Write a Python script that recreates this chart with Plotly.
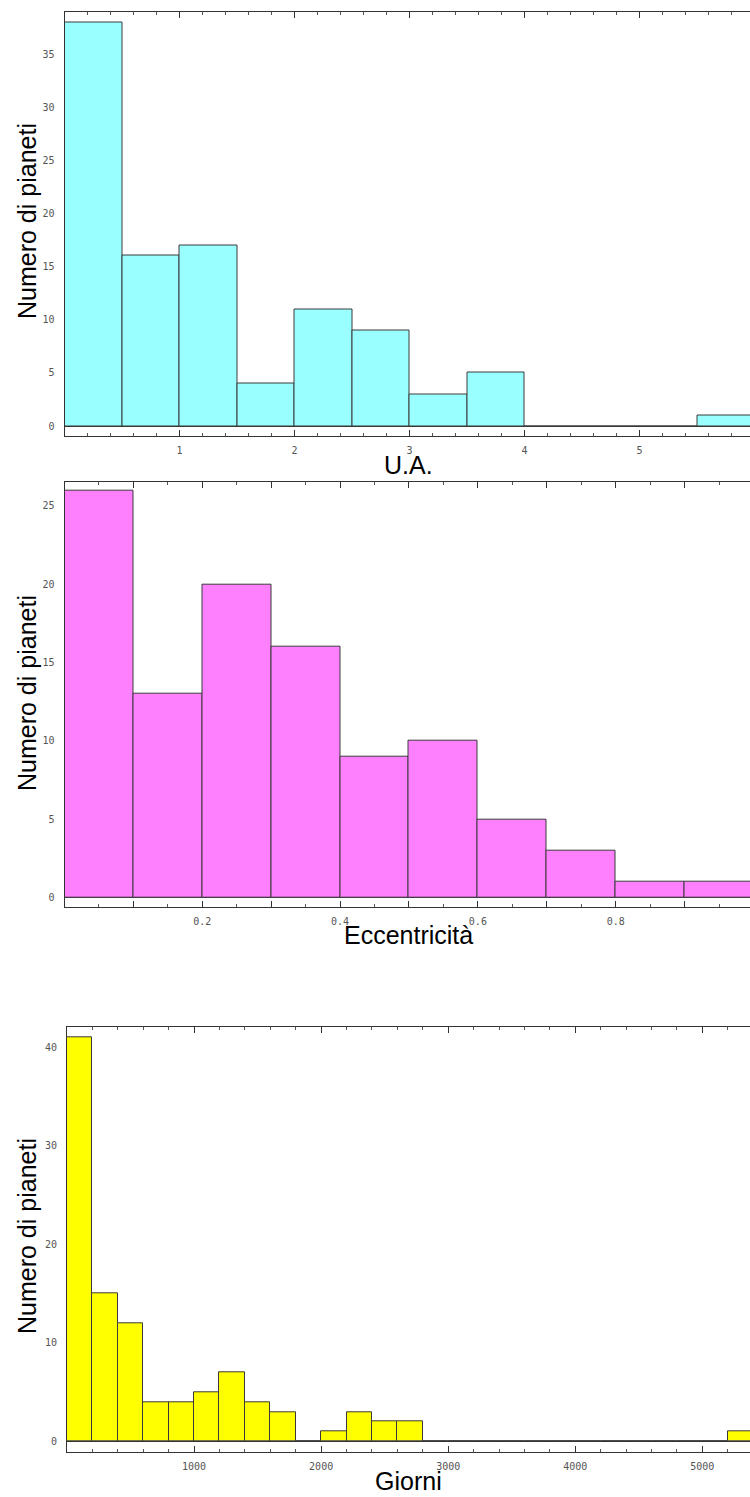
import plotly.graph_objects as go

# ---- data ----
ua_bin_start = [0, 0.5, 1, 1.5, 2, 2.5, 3, 3.5, 4, 4.5, 5, 5.5]
ua_bin_width = 0.5
ua_counts = [38, 16, 17, 4, 11, 9, 3, 5, 0, 0, 0, 1]

ecc_bin_start = [0, 0.1, 0.2, 0.3, 0.4, 0.5, 0.6, 0.7, 0.8, 0.9]
ecc_bin_width = 0.1
ecc_counts = [26, 13, 20, 16, 9, 10, 5, 3, 1, 1]

per_bin_start = [i * 200 for i in range(27)]
per_bin_width = 200
per_counts = [41, 15, 12, 4, 4, 5, 7, 4, 3, 0, 1, 3, 2, 2,
              0, 0, 0, 0, 0, 0, 0, 0, 0, 0, 0, 0, 1]

ua_ticks = [1, 2, 3, 4, 5]
ecc_ticks = [0.1, 0.2, 0.3, 0.4, 0.5, 0.6, 0.7, 0.8, 0.9]
ecc_ticktext = ["", "0.2", "", "0.4", "", "0.6", "", "0.8", ""]
per_ticks = [1000, 2000, 3000, 4000, 5000]

y_title = "Numero di pianeti"
x_titles = ["U.A.", "Eccentricità", "Giorni"]

W, H = 750, 1497

def px_x(p):
    return p / W

def px_y(p):
    return 1 - p / H

fig = go.Figure()

panels = [
    dict(starts=ua_bin_start, w=ua_bin_width, counts=ua_counts, color="#99FFFF",
         left=64.5, top=11.5, bottom=436, xr=[0, 5.96], yr=[-0.94, 39.0],
         xt=ua_ticks, xtt=[str(v) for v in ua_ticks], xminor=0.2,
         yt=[0, 5, 10, 15, 20, 25, 30, 35], ycen=221, xtitle_y=465),
    dict(starts=ecc_bin_start, w=ecc_bin_width, counts=ecc_counts, color="#FF80FF",
         left=64.5, top=481.7, bottom=907, xr=[0, 0.995], yr=[-0.6, 26.55],
         xt=ecc_ticks, xtt=ecc_ticktext, xminor=0.05,
         yt=[0, 5, 10, 15, 20, 25], ycen=693, xtitle_y=935),
    dict(starts=per_bin_start, w=per_bin_width, counts=per_counts, color="#FFFF00",
         left=67, top=1027.3, bottom=1452.3, xr=[0, 5375], yr=[-1.1, 42.05],
         xt=per_ticks, xtt=[str(v) for v in per_ticks], xminor=200,
         yt=[0, 10, 20, 30, 40], ycen=1236, xtitle_y=1481),
]

tickfont = dict(family="DejaVu Sans Mono", size=10, color="#555555")
annotations = []
for i, p in enumerate(panels):
    n = "" if i == 0 else str(i + 1)
    centers = [s + p["w"] / 2 for s in p["starts"]]
    fig.add_trace(go.Bar(
        x=centers, y=p["counts"], width=[p["w"]] * len(centers),
        marker=dict(color=p["color"], line=dict(color="#3a3a3a", width=1)),
        xaxis="x" + n, yaxis="y" + n, showlegend=False, hoverinfo="x+y",
    ))
    fig.layout["xaxis" + n] = dict(
        domain=[px_x(p["left"]), 1.0], anchor="y" + n, range=p["xr"],
        showgrid=False, zeroline=False, showline=True, linecolor="#333333",
        linewidth=1, mirror="ticks", ticks="inside", ticklen=6, tickwidth=1,
        tickcolor="#333333", tickvals=p["xt"], ticktext=p["xtt"],
        tickfont=tickfont, ticklabelstandoff=5,
        minor=dict(dtick=p["xminor"], ticks="inside", ticklen=3,
                   tickcolor="#555555", showgrid=False),
        fixedrange=True,
    )
    fig.layout["yaxis" + n] = dict(
        domain=[px_y(p["bottom"]), px_y(p["top"])], anchor="x" + n,
        range=p["yr"], showgrid=False, zeroline=True, zerolinecolor="#333333",
        zerolinewidth=1, showline=True, linecolor="#333333", linewidth=1,
        mirror=False, ticks="outside", ticklen=7, tickcolor="rgba(0,0,0,0)",
        tickvals=p["yt"], tickfont=tickfont, fixedrange=True,
    )
    annotations.append(dict(
        text=y_title, xref="paper", yref="paper", x=px_x(27), y=px_y(p["ycen"]),
        xanchor="center", yanchor="middle", textangle=-90, showarrow=False,
        font=dict(family="Liberation Sans", size=25, color="#000000"),
    ))
    annotations.append(dict(
        text=x_titles[i], xref="paper", yref="paper", x=px_x(408),
        y=px_y(p["xtitle_y"]), xanchor="center", yanchor="middle",
        showarrow=False,
        font=dict(family="Liberation Sans", size=25, color="#000000"),
    ))

fig.update_layout(
    width=W, height=H, margin=dict(l=0, r=0, t=0, b=0),
    paper_bgcolor="white", plot_bgcolor="white", bargap=0,
    annotations=annotations,
)

fig.write_html("out.html")
